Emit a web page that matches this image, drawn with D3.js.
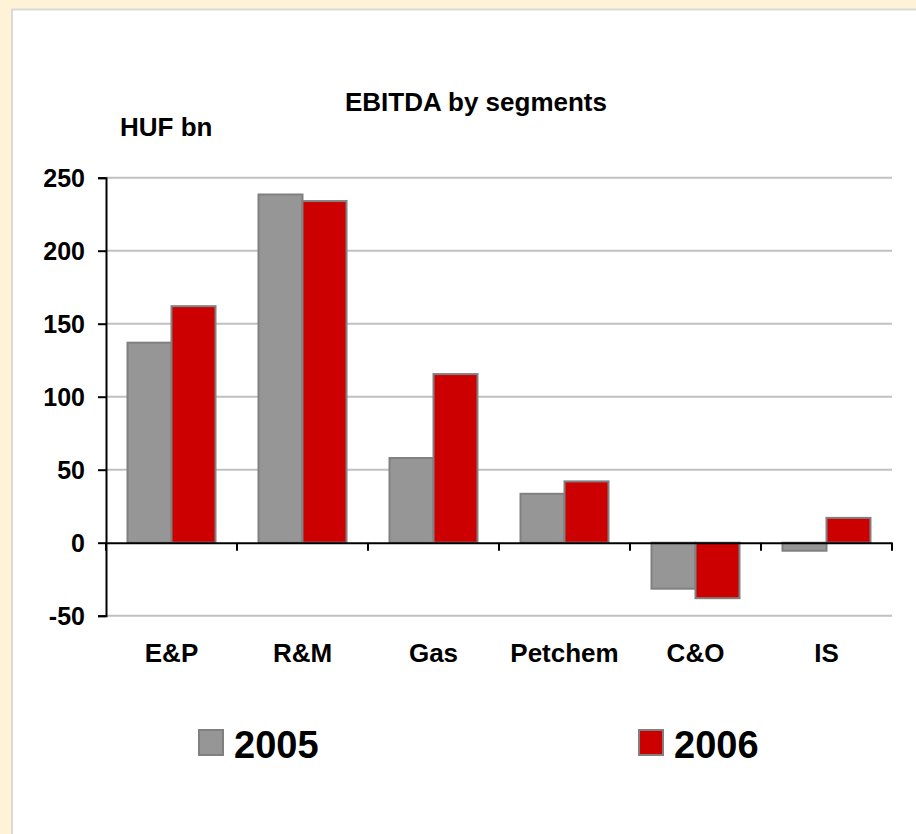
<!DOCTYPE html>
<html><head><meta charset="utf-8">
<script src="https://cdn.jsdelivr.net/npm/d3@7"></script>
<style>html,body{margin:0;padding:0;background:#FFF2D6;}svg{display:block;}</style>
</head><body>
<svg id="chart" width="916" height="834"></svg>
<script>
const categories = ["E&P", "R&M", "Gas", "Petchem", "C&O", "IS"];
const seriesNames = ["2005", "2006"];
const values2005 = [137, 238.5, 58, 33.5, -31.5, -5.5];
const values2006 = [162, 234, 115.5, 42, -38, 17];
const yTicks = [-50, 0, 50, 100, 150, 200, 250];
const colors = ["#969696", "#CC0000"];

const svg = d3.select("#chart");
const font = "'Liberation Sans', Arial, sans-serif";

svg.append("rect").attr("x",0).attr("y",0).attr("width",916).attr("height",834).attr("fill","#FFF2D6");
svg.append("rect").attr("x",12).attr("y",9.5).attr("width",920).attr("height",840)
  .attr("fill","#fff").attr("stroke","#d9d9d9").attr("stroke-width",2);

const x0 = d3.scaleBand().domain(categories).range([106, 892]).paddingInner(0).paddingOuter(0);
const x1 = d3.scaleBand().domain(seriesNames).range([21.5, 109.5]);
const y = d3.scaleLinear().domain([-50, 250]).range([615.7, 177.7]);

// gridlines
svg.append("g").selectAll("line").data(yTicks.filter(d => d !== 0)).join("line")
  .attr("x1", 106).attr("x2", 892).attr("y1", d => y(d)).attr("y2", d => y(d))
  .attr("stroke", "#c0c0c0").attr("stroke-width", 2);

// bars
const data = categories.map((c, i) => ({cat: c, vals: [values2005[i], values2006[i]]}));
const groups = svg.append("g").selectAll("g").data(data).join("g")
  .attr("transform", d => `translate(${x0(d.cat)},0)`);
groups.selectAll("rect").data(d => d.vals.map((v, j) => ({name: seriesNames[j], v, j}))).join("rect")
  .attr("x", d => x1(d.name)).attr("width", x1.bandwidth())
  .attr("y", d => y(Math.max(0, d.v))).attr("height", d => Math.abs(y(d.v) - y(0)))
  .attr("fill", d => colors[d.j]).attr("stroke", "#808080").attr("stroke-width", 2);

// y axis
const yAxis = d3.axisLeft(y).tickValues(yTicks).tickSize(8).tickPadding(13).tickFormat(d => String(d));
const ya = svg.append("g").attr("transform", "translate(106,0)").call(yAxis);
ya.select(".domain").attr("stroke", "#000").attr("stroke-width", 2);
ya.selectAll(".tick line").attr("stroke", "#000").attr("stroke-width", 2);
ya.selectAll(".tick text").attr("font-family", font).attr("font-size", 25).attr("font-weight", "bold")
  .attr("fill", "#000").attr("dy", "0.36em");

// x axis at zero
const xAxis = d3.axisBottom(x0).tickSize(0).tickFormat("");
const xa = svg.append("g").attr("transform", `translate(0,${y(0)})`).call(xAxis);
xa.select(".domain").attr("stroke", "#000").attr("stroke-width", 2);
const bounds = categories.map(c => x0(c)).concat([x0.range()[1]]);
xa.selectAll(".btick").data(bounds).join("line").attr("class","btick")
  .attr("x1", d => d).attr("x2", d => d).attr("y1", 0).attr("y2", 8)
  .attr("stroke", "#000").attr("stroke-width", 2);

// category labels
svg.append("g").selectAll("text").data(categories).join("text")
  .attr("x", d => x0(d) + x0.bandwidth()/2).attr("y", 662)
  .attr("text-anchor", "middle").attr("font-family", font).attr("font-size", 26)
  .attr("font-weight", "bold").attr("fill", "#000").text(d => d);

// title
svg.append("text").attr("x", 476).attr("y", 111).attr("text-anchor", "middle")
  .attr("font-family", font).attr("font-size", 26).attr("font-weight", "bold").attr("fill", "#000")
  .text("EBITDA by segments");
svg.append("text").attr("x", 120).attr("y", 136)
  .attr("font-family", font).attr("font-size", 26).attr("font-weight", "bold").attr("fill", "#000")
  .text("HUF bn");

// legend
const legendPos = [199, 639];
const lg = svg.append("g").selectAll("g").data(seriesNames).join("g")
  .attr("transform", (d, i) => `translate(${legendPos[i]},730)`);
lg.append("rect").attr("x", 0).attr("y", 0).attr("width", 24).attr("height", 25)
  .attr("fill", (d, i) => colors[i]).attr("stroke", "#808080").attr("stroke-width", 2);
lg.append("text").attr("x", 35).attr("y", 27.5)
  .attr("font-family", font).attr("font-size", 38).attr("font-weight", "bold").attr("fill", "#000")
  .text(d => d);
</script>
</body></html>
